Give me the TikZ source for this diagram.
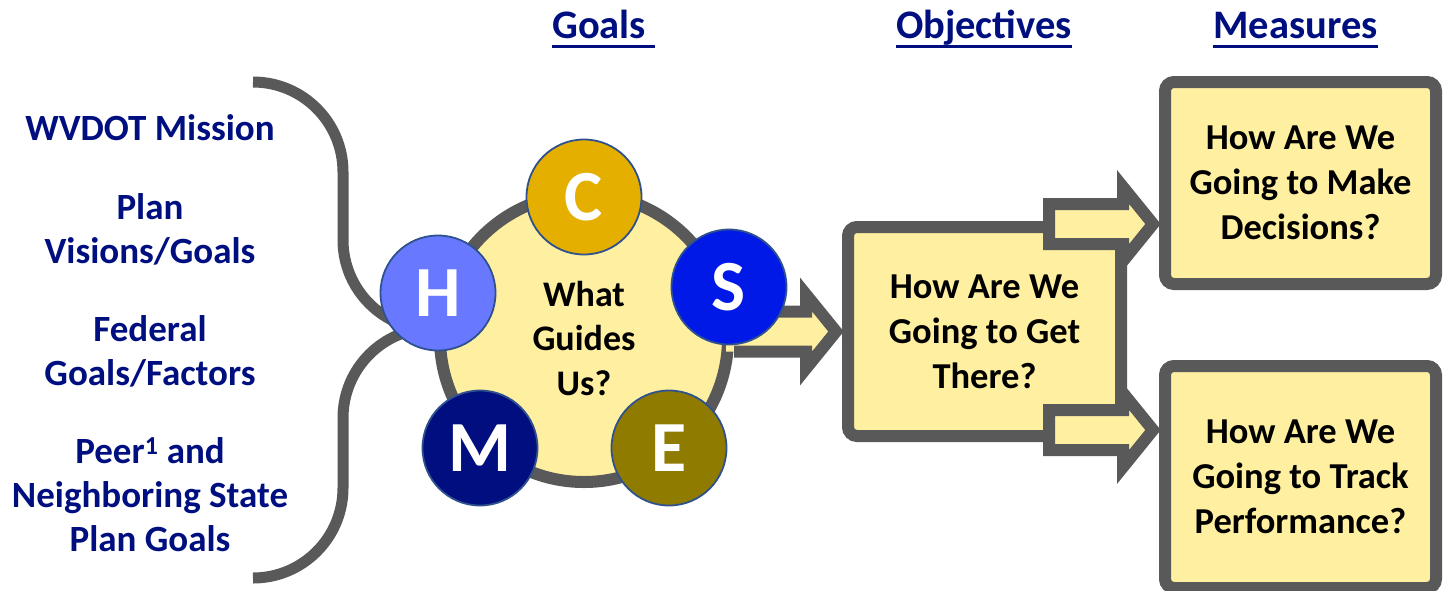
\documentclass[tikz,border=0pt]{standalone}
\usepackage{fontspec}
\setmainfont{Carlito}
\usetikzlibrary{calc}
\definecolor{gr}{HTML}{595959}
\definecolor{yl}{HTML}{FFEFA0}
\definecolor{nv}{HTML}{000F80}
\definecolor{cC}{HTML}{E5AF00}
\definecolor{cS}{HTML}{0019E6}
\definecolor{cH}{HTML}{6979FF}
\definecolor{cE}{HTML}{8E7B00}
\definecolor{cM}{HTML}{000E80}
\definecolor{ol}{HTML}{2F528F}
\newcommand{\ulbox}[1]{\setbox0\hbox{#1}\rlap{\rule[-9.5pt]{\wd0}{2.6pt}}\box0}
\newcommand{\blockarrow}[2]{%
  \draw[barrow] let \p1=(#1), \p2=(#2) in
    (\x1,\y2+20pt) -- (\x2-30pt,\y2+20pt) -- (\x2-30pt,\y2+37pt) -- (\x2,\y2)
    -- (\x2-30pt,\y2-37pt) -- (\x2-30pt,\y2-20pt) -- (\x1,\y2-20pt) -- cycle;}
\begin{document}
\begin{tikzpicture}[x=1pt,y=-1pt,
  brace/.style={draw=gr,line width=11pt},
  hub/.style={circle,draw=gr,fill=yl,line width=12pt,minimum size=288pt,inner sep=0pt,
    align=center,font=\fontsize{36}{44.5}\selectfont\bfseries},
  letter/.style={circle,draw=ol,line width=1.8pt,minimum size=115pt,inner sep=0pt,
    text=white,font=\fontsize{72}{72}\selectfont\bfseries},
  box/.style={draw=gr,fill=yl,line width=12pt,rounded corners=9pt,align=center,
    inner sep=0pt,font=\fontsize{36.5}{45}\selectfont\bfseries},
  barrow/.style={draw=gr,fill=yl,line width=12pt,miter limit=10},
  lefttxt/.style={text=nv,align=center,inner sep=0pt,font=\fontsize{37}{44}\selectfont\bfseries},
  head/.style={text=nv,inner sep=0pt,font=\fontsize{40.5}{40}\selectfont\bfseries},
]
\useasboundingbox (0,0) rectangle (1445,590);
\fill[white] (0,0) rectangle (1445,590);

% brace
\draw[brace] (253,82) .. controls (302.7,82) and (343,122.3) .. (343,172) -- (343,240)
  .. controls (343,289.7) and (383.3,330) .. (433,330);
\draw[brace] (433,328) .. controls (383.3,328) and (343,368.3) .. (343,418) -- (343,488)
  .. controls (343,537.7) and (302.7,578) .. (253,578);

% hub
\node[hub] (hub) at (584,338) {What\\Guides\\Us?};

% boxes
\node[box, minimum width=273pt, minimum height=209pt] (obj) at (984.5,331.5) {How Are We\\Going to Get\\There?};
\node[box, minimum width=271pt, minimum height=202pt] (m1) at (1300.5,183) {How Are We\\Going to Make\\Decisions?};
\node[box, minimum width=271pt, minimum height=222pt] (m2) at (1300.5,477) {How Are We\\Going to Track\\Performance?};

% arrow hub -> objectives (open on the left)
\fill[yl] let \p1=(hub.east), \p2=($(obj.west)+(-6,0)$) in
  (\x1-8pt,\y2+20pt) -- (\x2-30pt,\y2+20pt) -- (\x2-30pt,\y2+37pt) -- (\x2,\y2)
  -- (\x2-30pt,\y2-37pt) -- (\x2-30pt,\y2-20pt) -- (\x1-8pt,\y2-20pt) -- cycle;
\draw[gr,line width=12pt,miter limit=10] let \p1=(hub.east), \p2=($(obj.west)+(-6,0)$) in
  (\x1-8pt,\y2+20pt) -- (\x2-30pt,\y2+20pt) -- (\x2-30pt,\y2+37pt) -- (\x2,\y2)
  -- (\x2-30pt,\y2-37pt) -- (\x2-30pt,\y2-20pt) -- (\x1,\y2-20pt);

% letters
\node[letter, fill=cC] (C) at (584,197) {C};
\node[letter, fill=cS] (S) at (729,287) {S};
\node[letter, fill=cE] (E) at (669,448) {E};
\node[letter, fill=cM] (M) at (480,448) {M};
\node[letter, fill=cH] (H) at (438,293) {H};

% arrows objectives -> measures
\blockarrow{$(obj.north east)+(-78,3)$}{$(m1.west |- obj.north)+(-6,3)$}
\blockarrow{$(obj.south east)+(-78,-12)$}{$(m2.west |- obj.south)+(-6,-12)$}

% headers
\node[head, anchor=base west] (hg) at (552,38) {\ulbox{Goals\ }};
\node[head, anchor=base] (ho) at (984,38) {\ulbox{Objectives}};
\node[head, anchor=base] (hm) at (1295.5,38) {\ulbox{Measures}};

% left texts
\node[lefttxt] (l1) at (150,128) {WVDOT Mission};
\node[lefttxt] (l2) at (150,229) {Plan\\Visions/Goals};
\node[lefttxt] (l3) at (150,351) {Federal\\Goals/Factors};
\node[lefttxt] (l4) at (150,495) {Peer\textsuperscript{1} and\\Neighboring State\\Plan Goals};
\end{tikzpicture}
\end{document}
